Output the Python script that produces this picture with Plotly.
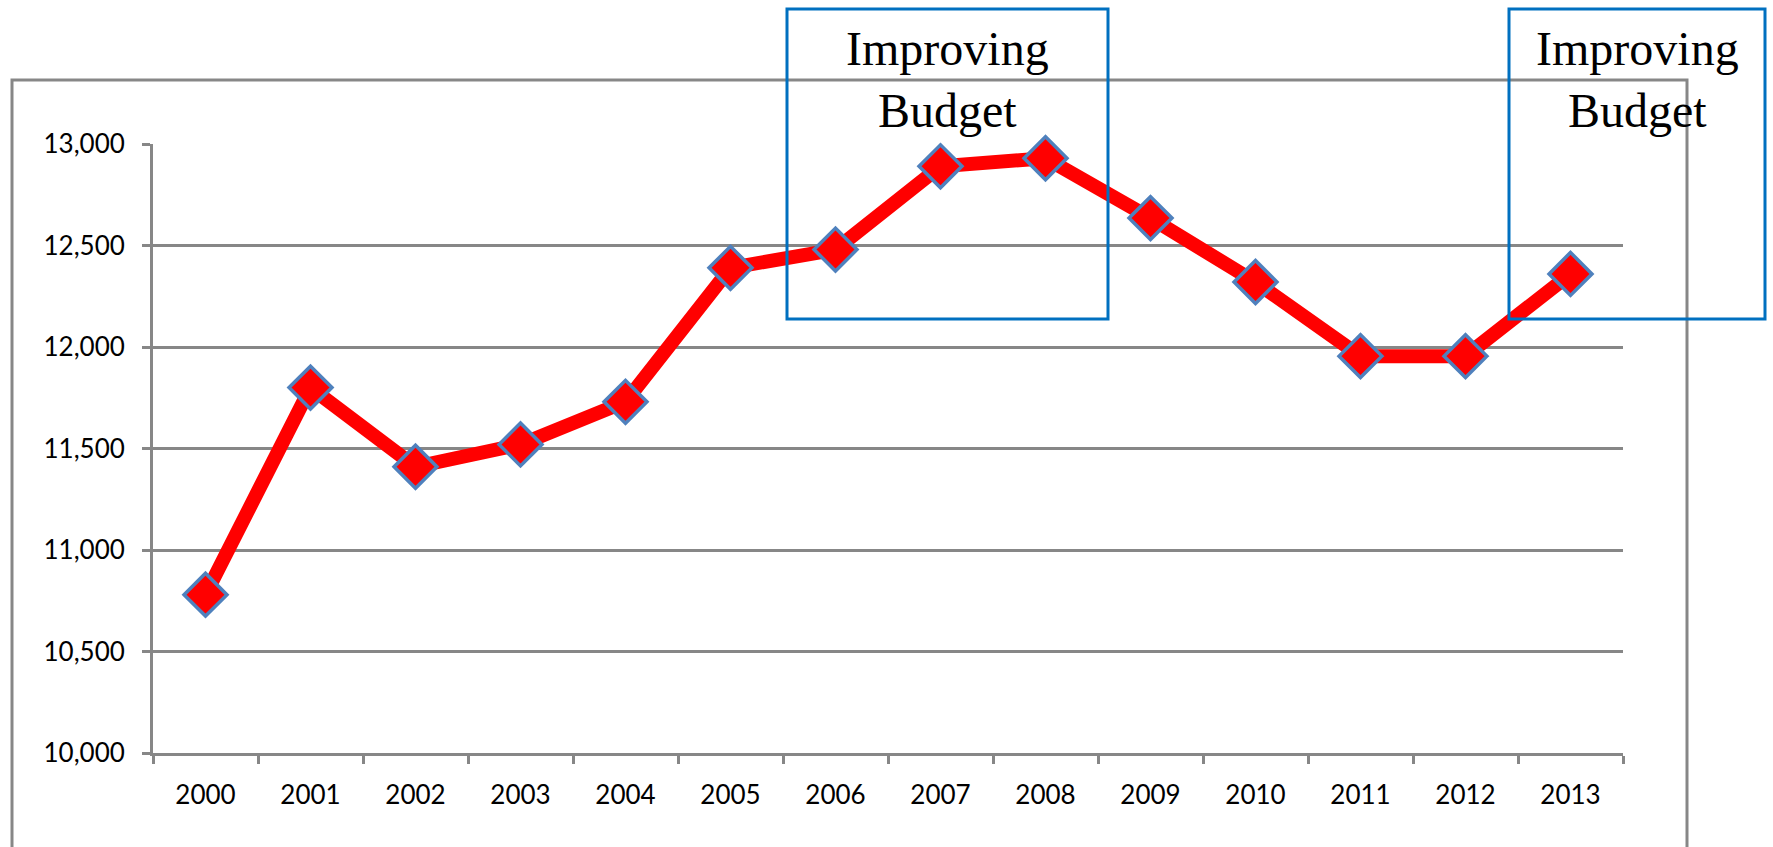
import plotly.graph_objects as go

years = ["2000", "2001", "2002", "2003", "2004", "2005", "2006",
         "2007", "2008", "2009", "2010", "2011", "2012", "2013"]
values = [10780, 11800, 11410, 11520, 11730, 12390, 12480,
          12890, 12930, 12635, 12320, 11955, 11955, 12360]
y_ticks = [10000, 10500, 11000, 11500, 12000, 12500, 13000]
box_label = "Improving<br>Budget"

W, H = 1773, 847
L, R, T, B = 153, 1623, 144, 753  # plot area in pixels
GRAY = "#878787"
BLUE = "#0070C0"


def px_x(px):
    return (px - L) / (R - L)


def px_y(py):
    return (B - py) / (B - T)


fig = go.Figure()
fig.add_trace(go.Scatter(
    x=years, y=values, mode="lines+markers",
    line=dict(color="#FF0000", width=14),
    marker=dict(symbol="diamond", size=33, color="#FF0000",
                line=dict(color="#4F81BD", width=3.5)),
    showlegend=False, cliponaxis=False,
))

shapes = [
    # outer chart frame
    dict(type="rect", xref="paper", yref="paper",
         x0=px_x(12), x1=px_x(1687), y0=px_y(900), y1=px_y(80),
         line=dict(color=GRAY, width=3), layer="below"),
    # callout boxes
    dict(type="rect", xref="paper", yref="paper",
         x0=px_x(787), x1=px_x(1108), y0=px_y(319), y1=px_y(9),
         line=dict(color=BLUE, width=3)),
    dict(type="rect", xref="paper", yref="paper",
         x0=px_x(1509), x1=px_x(1765), y0=px_y(319), y1=px_y(9),
         line=dict(color=BLUE, width=3)),
]

annotations = [
    dict(text=box_label, xref="paper", yref="paper", x=px_x(947), y=px_y(80),
         xanchor="center", yanchor="middle", showarrow=False,
         font=dict(family="Liberation Serif", size=48, color="black")),
    dict(text=box_label, xref="paper", yref="paper", x=px_x(1638), y=px_y(80),
         xanchor="center", yanchor="middle", showarrow=False,
         font=dict(family="Liberation Serif", size=48, color="black")),
]

fig.update_layout(
    width=W, height=H,
    margin=dict(l=L, r=W - R, t=T, b=H - B, pad=0),
    paper_bgcolor="white", plot_bgcolor="white",
    shapes=shapes, annotations=annotations,
    xaxis=dict(type="category", tickson="boundaries", ticks="outside",
               ticklen=8, tickwidth=3, tickcolor=GRAY,
               showline=True, linecolor=GRAY, linewidth=3,
               showgrid=False, zeroline=False,
               tickfont=dict(family="Lato", size=26, color="black"),
               ticklabelstandoff=17, range=[-0.5, 13.5]),
    yaxis=dict(range=[10000, 13000], tickvals=y_ticks, tickformat=",d",
               ticks="outside", ticklen=8, tickwidth=3, tickcolor=GRAY,
               showline=True, linecolor=GRAY, linewidth=3,
               showgrid=True, gridcolor=GRAY, gridwidth=3, zeroline=False,
               tickfont=dict(family="Lato", size=26, color="black"),
               ticklabelstandoff=12),
)

fig.write_html("out.html",
               config={"displayModeBar": False},
               post_script="document.body.style.margin='0';"
                           "document.body.style.overflow='hidden';")
